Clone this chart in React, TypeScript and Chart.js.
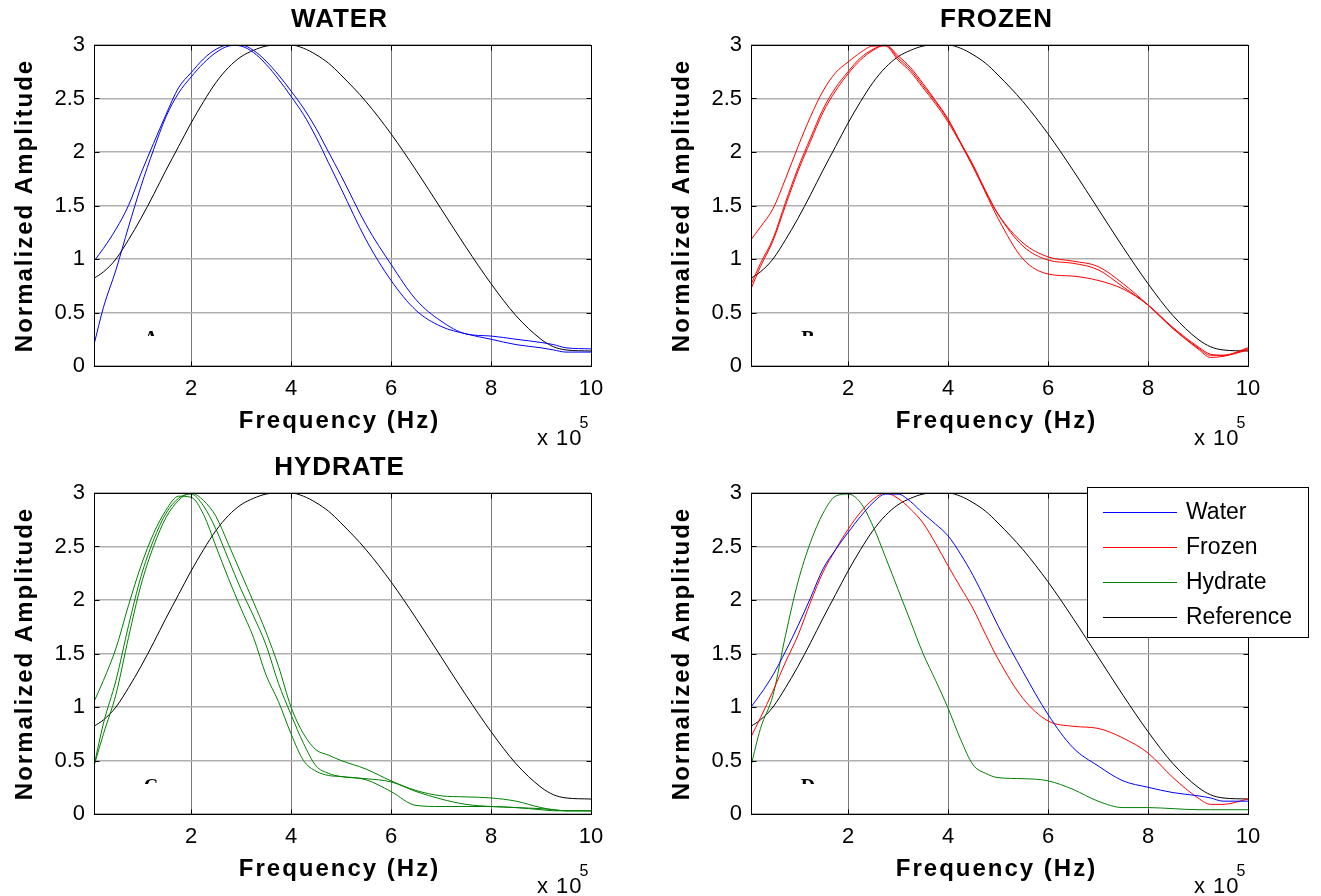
import React, { useEffect, useRef } from "react";
import { Chart, registerables } from "chart.js";

Chart.register(...registerables);

// ---------------- data (frequency in units of 1e5 Hz) ----------------
const FREQ = [0.06, 0.25, 0.5, 0.75, 1, 1.25, 1.5, 1.75, 2, 2.25, 2.5, 2.75, 3, 3.25, 3.5, 3.75, 4, 4.25, 4.5, 4.75, 5, 5.5, 6, 6.5, 7, 7.5, 8, 8.5, 9, 9.25, 9.5, 10];

const REFERENCE = [0.82, 0.88, 1.0, 1.18, 1.38, 1.6, 1.83, 2.05, 2.27, 2.47, 2.65, 2.79, 2.89, 2.95, 2.99, 3.0, 3.0, 2.97, 2.91, 2.83, 2.72, 2.47, 2.17, 1.83, 1.47, 1.11, 0.77, 0.47, 0.25, 0.18, 0.15, 0.14];

const WATER_1 = [0.98, 1.1, 1.28, 1.5, 1.8, 2.08, 2.35, 2.6, 2.74, 2.87, 2.96, 3.0, 2.99, 2.93, 2.82, 2.68, 2.52, 2.35, 2.14, 1.9, 1.66, 1.18, 0.8, 0.52, 0.37, 0.3, 0.25, 0.2, 0.17, 0.15, 0.13, 0.13];
const WATER_2 = [0.2, 0.55, 0.9, 1.3, 1.68, 2.02, 2.33, 2.55, 2.7, 2.83, 2.93, 2.99, 3.0, 2.95, 2.85, 2.72, 2.57, 2.41, 2.22, 2.0, 1.78, 1.32, 0.95, 0.62, 0.42, 0.3, 0.28, 0.25, 0.22, 0.2, 0.17, 0.16];

const FROZEN_1 = [1.18, 1.3, 1.47, 1.75, 2.05, 2.33, 2.57, 2.74, 2.84, 2.93, 2.99, 2.99, 2.86, 2.75, 2.6, 2.45, 2.28, 2.08, 1.86, 1.63, 1.42, 1.15, 1.02, 0.98, 0.93, 0.77, 0.57, 0.35, 0.17, 0.1, 0.1, 0.17];
const FROZEN_2 = [0.72, 0.93, 1.17, 1.5, 1.82, 2.1, 2.37, 2.57, 2.73, 2.86, 2.95, 3.0, 2.88, 2.77, 2.62, 2.47, 2.3, 2.09, 1.88, 1.64, 1.42, 1.12, 0.99, 0.96, 0.9, 0.74, 0.57, 0.35, 0.16, 0.08, 0.09, 0.15];
const FROZEN_3 = [0.76, 0.96, 1.19, 1.53, 1.85, 2.13, 2.4, 2.6, 2.75, 2.88, 2.96, 3.0, 2.9, 2.79, 2.64, 2.48, 2.31, 2.09, 1.87, 1.62, 1.38, 1.0, 0.86, 0.84, 0.8, 0.72, 0.57, 0.36, 0.18, 0.11, 0.1, 0.16];

const HYDRATE_1 = [1.05, 1.25, 1.55, 1.95, 2.32, 2.62, 2.84, 2.97, 2.96, 2.8, 2.5, 2.2, 1.92, 1.65, 1.3, 1.05, 0.75, 0.5, 0.4, 0.36, 0.35, 0.32, 0.21, 0.08, 0.07, 0.07, 0.07, 0.06, 0.04, 0.03, 0.03, 0.03];
const HYDRATE_2 = [0.45, 0.85, 1.25, 1.76, 2.22, 2.56, 2.81, 2.95, 2.99, 2.88, 2.66, 2.38, 2.1, 1.85, 1.58, 1.22, 0.93, 0.66, 0.45, 0.38, 0.35, 0.33, 0.3, 0.21, 0.14, 0.09, 0.07, 0.06, 0.05, 0.04, 0.03, 0.03];
const HYDRATE_3 = [0.45, 0.75, 1.12, 1.65, 2.14, 2.5, 2.77, 2.93, 3.0, 2.93, 2.78, 2.52, 2.25, 1.98, 1.7, 1.38, 1.0, 0.75, 0.6, 0.55, 0.5, 0.42, 0.31, 0.22, 0.17, 0.16, 0.15, 0.12, 0.06, 0.04, 0.03, 0.03];

const WATER_D = [1.0, 1.12, 1.3, 1.52, 1.76, 2.02, 2.29, 2.47, 2.63, 2.78, 2.91, 2.99, 2.99, 2.92, 2.81, 2.71, 2.6, 2.43, 2.23, 2.0, 1.76, 1.33, 0.93, 0.62, 0.45, 0.31, 0.25, 0.2, 0.17, 0.15, 0.12, 0.12];
const FROZEN_D = [0.72, 0.9, 1.15, 1.42, 1.67, 1.98, 2.26, 2.47, 2.66, 2.82, 2.94, 3.0, 2.95, 2.85, 2.72, 2.53, 2.32, 2.12, 1.92, 1.68, 1.45, 1.08, 0.87, 0.82, 0.8, 0.71, 0.57, 0.34, 0.15, 0.09, 0.09, 0.14];
const HYDRATE_D = [0.45, 0.8, 1.11, 1.67, 2.17, 2.54, 2.81, 2.97, 2.99, 2.91, 2.69, 2.4, 2.1, 1.8, 1.5, 1.25, 0.99, 0.7, 0.46, 0.38, 0.34, 0.33, 0.31, 0.23, 0.12, 0.06, 0.06, 0.05, 0.04, 0.04, 0.04, 0.04];

const X_TICKS = [2, 4, 6, 8, 10];
const Y_TICKS = [0, 0.5, 1, 1.5, 2, 2.5, 3];
const X_MIN = 0.06;
const X_MAX = 10;

const X_LABEL = "Frequency (Hz)";
const Y_LABEL = "Normalized Amplitude";
const X_EXP_BASE = "x 10";
const X_EXP = "5";

// ---------------- styling ----------------
const BLUE = "#0000ff";
const RED = "#ff0000";
const GREEN = "#008000";
const BLACK = "#000000";
const FONT = '"Liberation Sans", Arial, Helvetica, sans-serif';

type Series = { label: string; values: number[]; color: string };
type PanelSpec = {
  id: string;
  title: string;
  letter: string;
  left: number;
  top: number;
  titleBaseline: number;
  legend: boolean;
  series: Series[];
};

const CANVAS_W = 657;
const CANVAS_H = 448;
const X_SCALE_H = 50;

const PANELS: PanelSpec[] = [
  {
    id: "A", title: "WATER", letter: "A", left: 0, top: 0, titleBaseline: 27, legend: false,
    series: [
      { label: "Water 1", values: WATER_1, color: BLUE },
      { label: "Water 2", values: WATER_2, color: BLUE },
      { label: "Reference", values: REFERENCE, color: BLACK },
    ],
  },
  {
    id: "B", title: "FROZEN", letter: "B", left: 657, top: 0, titleBaseline: 27, legend: false,
    series: [
      { label: "Frozen 1", values: FROZEN_1, color: RED },
      { label: "Frozen 2", values: FROZEN_2, color: RED },
      { label: "Frozen 3", values: FROZEN_3, color: RED },
      { label: "Reference", values: REFERENCE, color: BLACK },
    ],
  },
  {
    id: "C", title: "HYDRATE", letter: "C", left: 0, top: 448, titleBaseline: 27, legend: false,
    series: [
      { label: "Hydrate 1", values: HYDRATE_1, color: GREEN },
      { label: "Hydrate 2", values: HYDRATE_2, color: GREEN },
      { label: "Hydrate 3", values: HYDRATE_3, color: GREEN },
      { label: "Reference", values: REFERENCE, color: BLACK },
    ],
  },
  {
    id: "D", title: "", letter: "D", left: 657, top: 448, titleBaseline: 27, legend: true,
    series: [
      { label: "Water", values: WATER_D, color: BLUE },
      { label: "Frozen", values: FROZEN_D, color: RED },
      { label: "Hydrate", values: HYDRATE_D, color: GREEN },
      { label: "Reference", values: REFERENCE, color: BLACK },
    ],
  },
];

function decorPlugin(spec: PanelSpec) {
  return {
    id: "decor" + spec.id,
    afterDraw(chart: any) {
      const { ctx, chartArea: a, scales } = chart;
      const xs = scales.x;
      const ys = scales.y;
      ctx.save();

      // frame
      ctx.strokeStyle = "#000";
      ctx.lineWidth = 1;
      const L = Math.round(a.left) + 0.5;
      const T = Math.round(a.top) + 0.5;
      const R = Math.round(a.right) + 0.5;
      const B = Math.round(a.bottom) + 0.5;
      ctx.strokeRect(L, T, R - L, B - T);
      ctx.beginPath();
      X_TICKS.forEach((v) => {
        const px = Math.round(xs.getPixelForValue(v)) + 0.5;
        ctx.moveTo(px, B); ctx.lineTo(px, B - 5);
        ctx.moveTo(px, T); ctx.lineTo(px, T + 5);
      });
      Y_TICKS.forEach((v) => {
        const py = Math.round(ys.getPixelForValue(v)) + 0.5;
        ctx.moveTo(L, py); ctx.lineTo(L + 5, py);
        ctx.moveTo(R, py); ctx.lineTo(R - 5, py);
      });
      ctx.stroke();

      const cx = (a.left + a.right) / 2 - 3;
      ctx.fillStyle = "#000";

      // title
      if (spec.title) {
        ctx.font = `bold 26px ${FONT}`;
        ctx.textAlign = "center";
        ctx.textBaseline = "alphabetic";
        (ctx as any).letterSpacing = "1px";
        ctx.fillText(spec.title, cx, spec.titleBaseline);
      }

      // x axis label
      ctx.font = `bold 24px ${FONT}`;
      ctx.textAlign = "center";
      ctx.textBaseline = "alphabetic";
      (ctx as any).letterSpacing = "2px";
      ctx.fillText(X_LABEL, cx, 428);

      // y axis label
      ctx.save();
      ctx.translate(32, (a.top + a.bottom) / 2);
      ctx.rotate(-Math.PI / 2);
      ctx.textAlign = "center";
      ctx.textBaseline = "alphabetic";
      ctx.fillText(Y_LABEL, 0, 0);
      ctx.restore();

      // x 10^5
      (ctx as any).letterSpacing = "1px";
      ctx.font = `22px ${FONT}`;
      ctx.textAlign = "left";
      const ex = a.right - 54;
      ctx.fillText(X_EXP_BASE, ex, 445);
      const w = ctx.measureText(X_EXP_BASE).width;
      ctx.font = `16px ${FONT}`;
      ctx.fillText(X_EXP, ex + w - 3, 428);
      (ctx as any).letterSpacing = "0px";

      // partially hidden panel letter
      ctx.save();
      ctx.beginPath();
      ctx.rect(130, 320, 45, 16);
      ctx.clip();
      ctx.font = `bold 20px "Liberation Serif", "Times New Roman", serif`;
      ctx.textAlign = "center";
      ctx.fillText(spec.letter, 151, 345);
      ctx.restore();

      // legend
      if (spec.legend) {
        const bx = 430, by = 39, bw = 221, bh = 150;
        ctx.fillStyle = "#fff";
        ctx.fillRect(bx, by, bw, bh);
        ctx.strokeStyle = "#000";
        ctx.lineWidth = 1;
        ctx.strokeRect(bx + 0.5, by + 0.5, bw, bh);
        ctx.font = `23px ${FONT}`;
        ctx.textAlign = "left";
        ctx.textBaseline = "middle";
        chart.data.datasets.forEach((ds: any, i: number) => {
          const y = by + 25 + i * 35;
          ctx.strokeStyle = ds.borderColor;
          ctx.lineWidth = 1;
          ctx.beginPath();
          ctx.moveTo(bx + 16, Math.round(y) + 0.5);
          ctx.lineTo(bx + 90, Math.round(y) + 0.5);
          ctx.stroke();
          ctx.fillStyle = "#000";
          ctx.fillText(ds.label, bx + 99, y + 1);
        });
      }
      ctx.restore();
    },
  };
}

function Panel({ spec }: { spec: PanelSpec }) {
  const ref = useRef<HTMLCanvasElement | null>(null);
  useEffect(() => {
    if (!ref.current) return;
    const chart = new Chart(ref.current, {
      type: "line",
      data: {
        datasets: spec.series.map((s) => ({
          label: s.label,
          data: FREQ.map((f, i) => ({ x: f, y: s.values[i] })),
          borderColor: s.color,
          backgroundColor: s.color,
          borderWidth: 1,
          pointRadius: 0,
          fill: false,
          cubicInterpolationMode: "monotone" as const,
        })),
      },
      options: {
        responsive: false,
        animation: false,
        devicePixelRatio: 1,
        events: [],
        layout: { padding: { left: 0, top: 45, right: CANVAS_W - 591, bottom: CANVAS_H - 366 - X_SCALE_H } },
        plugins: {
          legend: { display: false },
          tooltip: { enabled: false },
          title: { display: false },
        },
        scales: {
          x: {
            type: "linear",
            min: X_MIN,
            max: X_MAX,
            afterBuildTicks: (scale: any) => {
              scale.ticks = X_TICKS.map((v) => ({ value: v }));
            },
            afterFit: (scale: any) => {
              scale.height = X_SCALE_H;
            },
            grid: { color: "#7a7a7a", lineWidth: 1, drawTicks: false },
            border: { display: false },
            ticks: {
              color: "#000",
              font: { family: FONT, size: 22 },
              padding: 10,
              maxRotation: 0,
              autoSkip: false,
              callback: (v: any) => String(v),
            },
          },
          y: {
            type: "linear",
            min: 0,
            max: 3,
            afterBuildTicks: (scale: any) => {
              scale.ticks = Y_TICKS.map((v) => ({ value: v }));
            },
            afterFit: (scale: any) => {
              scale.width = 94;
            },
            grid: { color: "#b0b0b0", lineWidth: 1.5, drawTicks: false },
            border: { display: false },
            ticks: {
              color: "#000",
              font: { family: FONT, size: 22 },
              padding: 9,
              autoSkip: false,
              callback: (v: any) => String(v),
            },
          },
        },
      },
      plugins: [decorPlugin(spec)],
    } as any);
    return () => chart.destroy();
  }, [spec]);

  return (
    <canvas
      ref={ref}
      width={CANVAS_W}
      height={CANVAS_H}
      style={{ position: "absolute", left: spec.left, top: spec.top, width: CANVAS_W, height: CANVAS_H }}
    />
  );
}

export default function App() {
  return (
    <div style={{ position: "absolute", left: 0, top: 0, width: 1321, height: 896, background: "#fff", overflow: "hidden" }}>
      {PANELS.map((p) => (
        <Panel key={p.id} spec={p} />
      ))}
    </div>
  );
}
